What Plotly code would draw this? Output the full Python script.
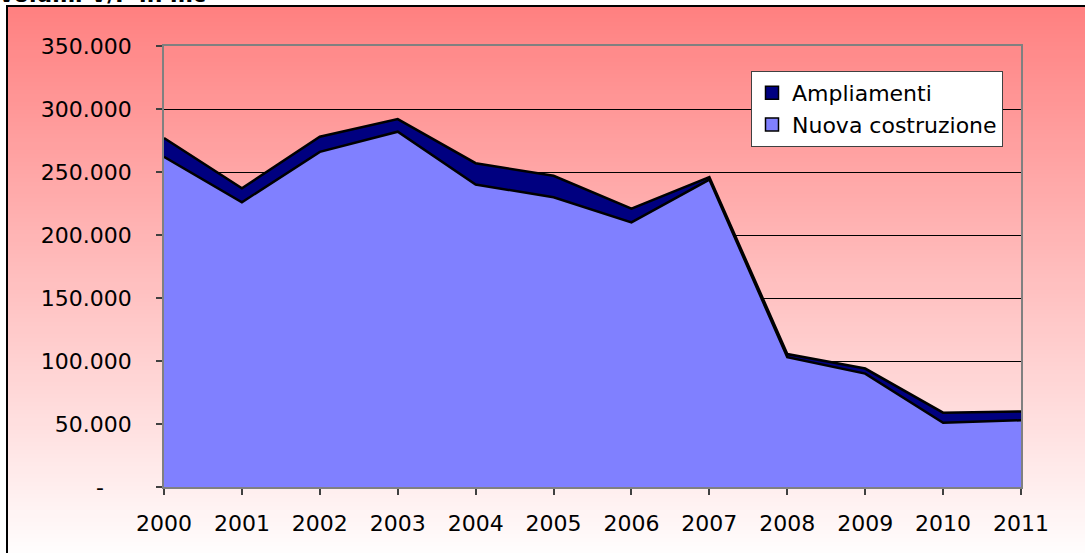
import plotly.graph_objects as go

# ---- data ----
years = [2000, 2001, 2002, 2003, 2004, 2005, 2006, 2007, 2008, 2009, 2010, 2011]
nuova_costruzione = [262000, 226000, 266000, 282000, 240000, 230000, 210000, 244000, 103000, 90000, 51000, 53000]
ampliamenti = [15000, 11000, 12000, 10000, 17000, 17000, 11000, 2000, 2500, 4000, 8000, 7000]
y_tick_vals = [0, 50000, 100000, 150000, 200000, 250000, 300000, 350000]
y_tick_text = ["-\u00a0\u00a0\u00a0\u00a0", "50.000", "100.000", "150.000", "200.000", "250.000", "300.000", "350.000"]
title_text = "Volumi V/P in mc"

W, H = 1085, 553
L, R, T, B = 164, 1021, 46, 487  # plot area in pixels

def px2x(px):
    return (px - L) / (R - L)

def px2y(py):
    return (B - py) / (B - T)

FONT = "DejaVu Sans"

fig = go.Figure()

fig.add_trace(go.Scatter(
    x=years, y=nuova_costruzione, name="Nuova costruzione", stackgroup="one",
    mode="lines", line=dict(color="black", width=2.5), fillcolor="#8080FF",
    showlegend=False))
fig.add_trace(go.Scatter(
    x=years, y=ampliamenti, name="Ampliamenti", stackgroup="one",
    mode="lines", line=dict(color="black", width=2.5), fillcolor="#000080",
    showlegend=False))

# legend entries (square swatches)
fig.add_trace(go.Scatter(
    x=[None], y=[None], name="Ampliamenti", mode="markers",
    marker=dict(symbol="square", size=13, color="#000080", line=dict(color="black", width=1.5))))
fig.add_trace(go.Scatter(
    x=[None], y=[None], name="Nuova costruzione", mode="markers",
    marker=dict(symbol="square", size=13, color="#8080FF", line=dict(color="black", width=1.5))))

# gradient background strips
shapes = []
top_px, bot_px = 6, 562
step = 4
py = top_px
while py < bot_px:
    t = (py + step / 2 - top_px) / (bot_px - top_px)
    g = int(round(128 + 127 * t))
    g = min(g, 255)
    shapes.append(dict(
        type="rect", xref="paper", yref="paper", layer="below",
        x0=px2x(7), x1=px2x(W + 20), y0=px2y(py + step + 0.5), y1=px2y(py),
        fillcolor=f"rgb(255,{g},{g})", line=dict(width=0)))
    py += step
# outer border
shapes.append(dict(
    type="rect", xref="paper", yref="paper", layer="below",
    x0=px2x(7), x1=px2x(W + 20), y0=px2y(H + 20), y1=px2y(6),
    fillcolor="rgba(0,0,0,0)", line=dict(color="black", width=2)))

fig.update_layout(
    width=W, height=H,
    margin=dict(l=L, r=W - R, t=T, b=H - B, pad=0),
    paper_bgcolor="white", plot_bgcolor="rgba(0,0,0,0)",
    font=dict(family=FONT, size=22, color="black"),
    shapes=shapes,
    showlegend=True,
    legend=dict(
        x=px2x(751), y=px2y(71), xanchor="left", yanchor="top",
        bgcolor="white", bordercolor="#404040", borderwidth=1,
        font=dict(family=FONT, size=22, color="black"),
        traceorder="normal", itemwidth=30),
    annotations=[dict(
        text=title_text, xref="paper", yref="paper",
        x=px2x(-4), y=px2y(9), xanchor="left", yanchor="bottom",
        showarrow=False, font=dict(family=FONT, size=22, color="black", weight="bold"))],
    xaxis=dict(
        range=[years[0], years[-1]], tickvals=years, ticktext=[str(y) for y in years],
        showgrid=False, zeroline=False, showline=True, linecolor="#808080", linewidth=1.5,
        mirror=True, ticks="outside", ticklen=6, tickcolor="#404040", tickwidth=1.5,
        ticklabelstandoff=10, automargin=False),
    yaxis=dict(
        range=[0, 350000], tickvals=y_tick_vals, ticktext=y_tick_text,
        showgrid=True, gridcolor="black", gridwidth=1, zeroline=False,
        showline=True, linecolor="#808080", linewidth=1.5, mirror=True,
        ticks="outside", ticklen=6, tickcolor="#404040", tickwidth=1.5,
        ticklabelstandoff=20, automargin=False),
)

fig.write_html("out.html", config={"displayModeBar": False},
               post_script="document.body.style.margin='0';document.body.style.overflow='hidden';")
